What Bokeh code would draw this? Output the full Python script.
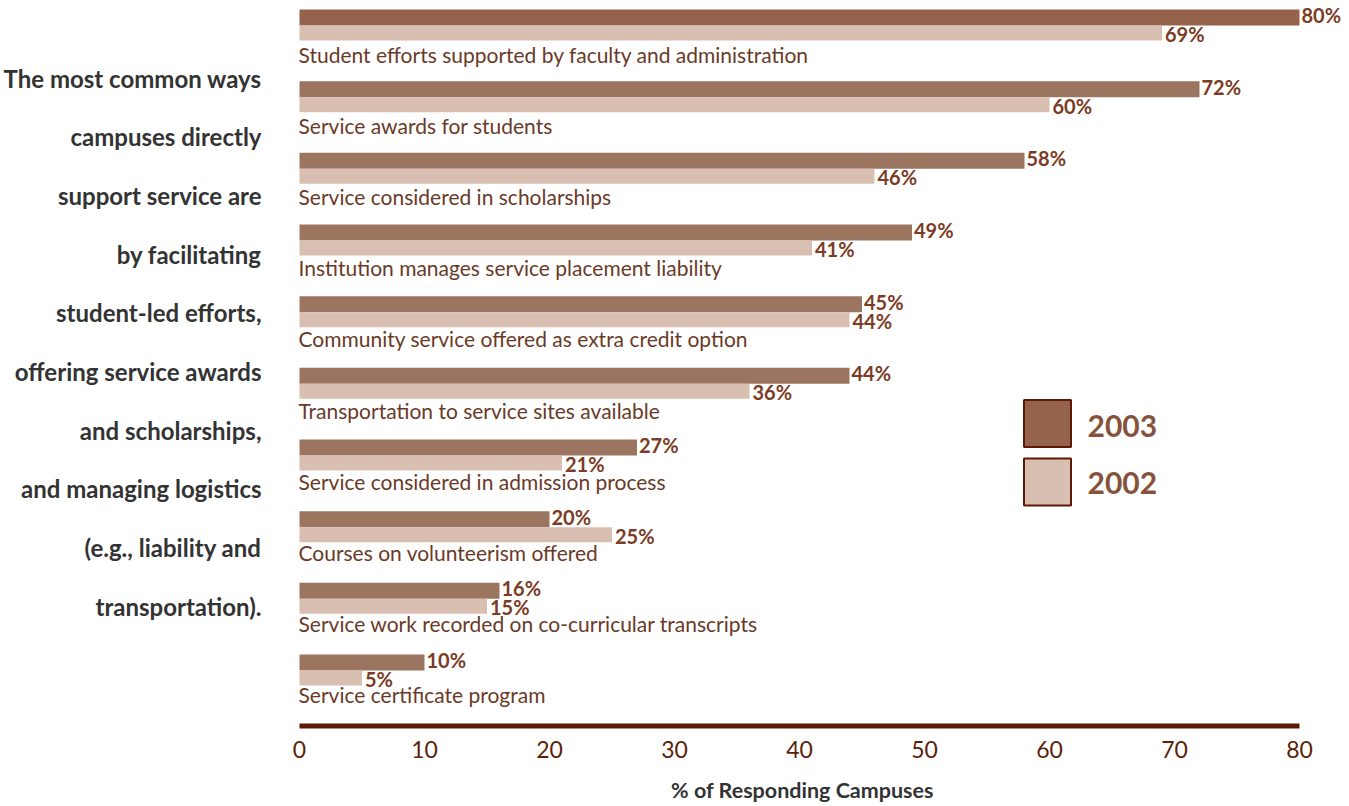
from bokeh.plotting import figure
from bokeh.layouts import row
from bokeh.models import Range1d, FixedTicker, ColumnDataSource
from bokeh.core.properties import value
from bokeh.embed import file_html
from bokeh.resources import INLINE

categories = [
    "Student efforts supported by faculty and administration",
    "Service awards for students",
    "Service considered in scholarships",
    "Institution manages service placement liability",
    "Community service offered as extra credit option",
    "Transportation to service sites available",
    "Service considered in admission process",
    "Courses on volunteerism offered",
    "Service work recorded on co-curricular transcripts",
    "Service certificate program",
]
v2003 = [80, 72, 58, 49, 45, 44, 27, 20, 16, 10]
v2002 = [69, 60, 46, 41, 44, 36, 21, 25, 15, 5]
ticks = [0, 10, 20, 30, 40, 50, 60, 70, 80]
side_text = [
    "The most common ways",
    "campuses directly",
    "support service are",
    "by facilitating",
    "student-led efforts,",
    "offering service awards",
    "and scholarships,",
    "and managing logistics",
    "(e.g., liability and",
    "transportation).",
]
series_names = ["2003", "2002"]
x_title = "% of Responding Campuses"

FONT = "Lato"
H = 806
LEFT_W = 262          # width of the side-text panel
RIGHT_W = 1349 - LEFT_W
RIGHT_PAD = 7
FRAME_BOTTOM = 732
PX = 12.5             # pixels per % unit
ZERO = 299 - LEFT_W   # offset of value 0 inside the chart frame
PITCH = 71.67
TEXT_PITCH = 71.2

DARK0 = "#95634c"
DARK = "#9b7560"
LIGHT = "#d9bfb2"
LABEL_C = "#7b3b24"
CAT_C = "#6a3a28"
AXIS_C = "#5c1a06"

# ---- left panel with explanatory text ----
left = figure(width=LEFT_W, height=H, output_backend="svg", toolbar_location=None,
              x_range=Range1d(0, LEFT_W), y_range=Range1d(FRAME_BOTTOM, 0),
              x_axis_location=None, y_axis_location=None,
              min_border_left=0, min_border_right=0, min_border_top=0,
              min_border_bottom=H - FRAME_BOTTOM)
left.grid.visible = False
left.outline_line_color = None
left.text(x=[LEFT_W - 1] * len(side_text), y=[77.5 + 58.7 * k for k in range(len(side_text))],
          text=side_text, text_font=value(FONT), text_font_size="24px", text_font_style="bold",
          text_color="#333333", text_align="right", text_baseline="middle")

# ---- chart panel ----
frame_w = RIGHT_W - RIGHT_PAD
p = figure(width=RIGHT_W, height=H, output_backend="svg", toolbar_location=None,
           x_range=Range1d(-ZERO / PX, (frame_w - ZERO) / PX),
           y_range=Range1d(FRAME_BOTTOM, 0), y_axis_location=None,
           min_border_left=0, min_border_right=RIGHT_PAD, min_border_top=0,
           min_border_bottom=H - FRAME_BOTTOM)
p.grid.visible = False
p.outline_line_color = None

rows = list(range(len(categories)))
dark_colors = [DARK0 if i == 0 else DARK for i in rows]

src = ColumnDataSource(dict(
    cat=categories, v3=v2003, v2=v2002,
    dy=[17 + PITCH * i for i in rows], ly=[32.5 + PITCH * i for i in rows], dc=dark_colors,
    cy=[53.5 + TEXT_PITCH * i for i in rows],
    t3=[f"{v}%" for v in v2003], t2=[f"{v}%" for v in v2002],
    y3=[14.5 + PITCH * i for i in rows], y2=[33.5 + PITCH * i for i in rows],
))

p.hbar(y="dy", left=0, right="v3", height=16, fill_color="dc", line_color=None, source=src)
p.hbar(y="ly", left=0, right="v2", height=15, fill_color=LIGHT, line_color=None, source=src)

p.text(x=0, y="cy", text="cat", source=src, text_font=value(FONT), text_font_size="21px",
       text_color=CAT_C, text_baseline="middle", text_align="left", x_offset=-1)
p.text(x="v3", y="y3", text="t3", source=src, text_font=value(FONT), text_font_size="20px",
       text_font_style="bold", text_color=LABEL_C, text_baseline="middle", x_offset=2)
p.text(x="v2", y="y2", text="t2", source=src, text_font=value(FONT), text_font_size="20px",
       text_font_style="bold", text_color=LABEL_C, text_baseline="middle", x_offset=3)

# axis line
p.segment(x0=[ticks[0]], x1=[ticks[-1]], y0=[725.5], y1=[725.5], line_color=AXIS_C, line_width=5)

# legend
p.rect(x=[(1047 - 299) / PX] * 2, y=[423, 481.5], width=47, height=47,
       width_units="screen", height_units="screen",
       fill_color=[DARK0, LIGHT], line_color=AXIS_C, line_width=2)
p.text(x=[(1087 - 299) / PX] * 2, y=[425, 482], text=series_names, text_font=value(FONT),
       text_font_size="30px", text_font_style="bold", text_color="#85533c",
       text_baseline="middle")

ax = p.xaxis[0]
ax.ticker = FixedTicker(ticks=ticks)
ax.axis_line_color = None
ax.major_tick_line_color = None
ax.minor_tick_line_color = None
ax.major_label_text_font = FONT
ax.major_label_text_font_size = "23px"
ax.major_label_text_color = "#5c1f0a"
ax.major_label_standoff = 2
ax.axis_label = x_title
ax.axis_label_text_font = FONT
ax.axis_label_text_font_size = "21.5px"
ax.axis_label_text_font_style = "bold"
ax.axis_label_text_color = "#333333"
ax.axis_label_standoff = 16

layout = row(left, p, spacing=0)
open("out.html", "w").write(file_html(layout, INLINE))
